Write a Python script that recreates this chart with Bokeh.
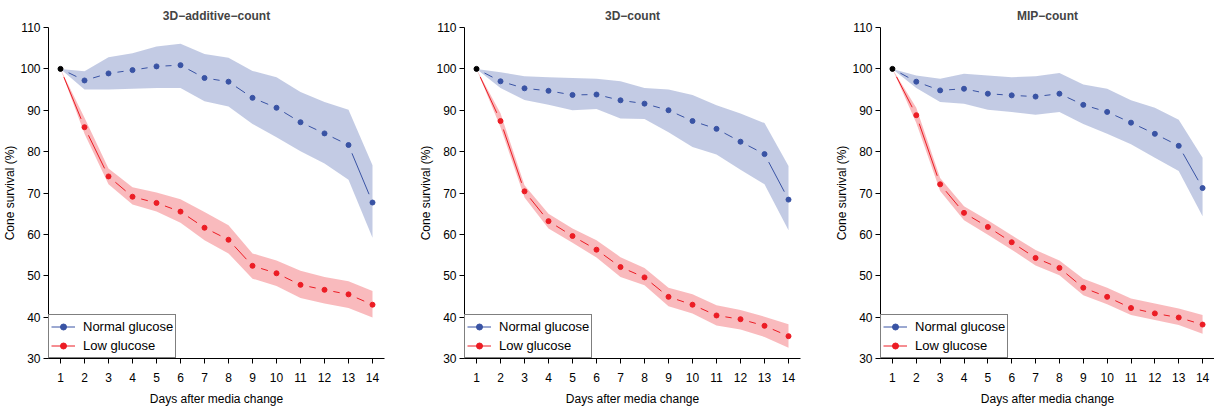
import numpy as np
from bokeh.plotting import figure
from bokeh.layouts import row
from bokeh.models import FixedTicker, Legend, LegendItem, Range1d, ColumnDataSource
from bokeh.embed import file_html
from bokeh.resources import INLINE

days = list(range(1, 15))

titles = ["3D\u2212additive\u2212count", "3D\u2212count", "MIP\u2212count"]

# 3D-additive-count
add_normal = [100, 97.2, 98.9, 99.7, 100.6, 100.9, 97.8, 96.9, 93.0, 90.6, 87.1, 84.4, 81.6, 67.7]
add_normal_hi = [100, 99.4, 102.8, 103.8, 105.4, 106.1, 103.6, 102.7, 99.5, 98.0, 94.4, 92.0, 90.1, 76.7]
add_normal_lo = [100, 95.0, 95.0, 95.2, 95.4, 95.4, 92.2, 90.9, 86.7, 83.5, 80.1, 77.1, 73.2, 59.2]
add_low = [100, 85.9, 74.0, 69.1, 67.6, 65.5, 61.6, 58.7, 52.4, 50.6, 47.8, 46.6, 45.5, 43.0]
add_low_hi = [100, 88.2, 75.9, 71.4, 70.1, 68.5, 65.4, 62.2, 55.4, 53.7, 51.2, 49.7, 48.7, 46.3]
add_low_lo = [100, 84.3, 72.1, 67.2, 65.5, 62.8, 58.6, 55.4, 49.3, 47.5, 44.6, 43.3, 42.2, 39.9]

# 3D-count
c3d_normal = [100, 97.0, 95.3, 94.7, 93.7, 93.8, 92.4, 91.6, 90.0, 87.4, 85.5, 82.4, 79.4, 68.4]
c3d_normal_hi = [100, 99.2, 98.2, 98.0, 97.8, 97.6, 97.0, 95.4, 95.0, 93.7, 91.2, 89.2, 86.9, 76.5]
c3d_normal_lo = [100, 95.4, 92.5, 91.3, 90.0, 90.3, 88.0, 87.9, 84.7, 81.1, 79.3, 75.6, 72.1, 61.0]
c3d_low = [100, 87.4, 70.4, 63.2, 59.6, 56.3, 52.1, 49.6, 44.9, 43.0, 40.4, 39.5, 37.9, 35.4]
c3d_low_hi = [100, 89.3, 71.9, 65.0, 61.4, 58.6, 54.5, 51.9, 47.1, 45.5, 42.9, 41.7, 40.1, 38.3]
c3d_low_lo = [100, 85.9, 68.9, 61.4, 58.0, 54.4, 49.7, 47.7, 42.6, 40.9, 38.0, 37.0, 35.2, 32.6]

# MIP-count
mip_normal = [100, 96.9, 94.8, 95.2, 94.0, 93.6, 93.3, 94.0, 91.3, 89.6, 87.0, 84.3, 81.4, 71.2]
mip_normal_hi = [100, 98.4, 97.6, 98.8, 98.4, 98.0, 98.2, 99.0, 96.2, 95.2, 92.4, 90.6, 87.7, 78.5]
mip_normal_lo = [100, 95.4, 92.0, 91.6, 90.1, 89.6, 88.9, 89.6, 86.7, 84.3, 81.8, 78.5, 75.3, 64.4]
mip_low = [100, 88.8, 72.1, 65.2, 61.8, 58.1, 54.3, 51.9, 47.1, 44.9, 42.2, 40.9, 39.9, 38.2]
mip_low_hi = [100, 90.6, 73.6, 66.8, 63.4, 59.8, 56.2, 53.7, 49.3, 47.1, 44.5, 43.3, 42.1, 40.5]
mip_low_lo = [100, 86.9, 70.5, 63.4, 59.9, 56.3, 52.5, 50.1, 45.3, 43.1, 40.5, 39.3, 38.1, 36.0]

y_ticks = [30, 40, 50, 60, 70, 80, 90, 100, 110]
series_labels = ["Normal glucose", "Low glucose"]

BLUE = "#3953a4"
RED = "#ec1c24"
FONT = "Liberation Sans"

panels = [
    (add_normal, add_normal_lo, add_normal_hi, add_low, add_low_lo, add_low_hi),
    (c3d_normal, c3d_normal_lo, c3d_normal_hi, c3d_low, c3d_low_lo, c3d_low_hi),
    (mip_normal, mip_normal_lo, mip_normal_hi, mip_low, mip_low_lo, mip_low_hi),
]

X0, X1 = 0.5, 14.5
Y0, Y1 = 30, 110
FH = 331
GAP = 9.0  # screen px gap around points (R type="b")


def gapped_segments(xs, ys, fw):
    sx = fw / (X1 - X0)
    sy = FH / (Y1 - Y0)
    x0s, y0s, x1s, y1s = [], [], [], []
    for i in range(len(xs) - 1):
        dx = (xs[i + 1] - xs[i]) * sx
        dy = (ys[i + 1] - ys[i]) * sy
        L = np.hypot(dx, dy)
        if L <= 2 * GAP:
            continue
        f = GAP / L
        x0s.append(xs[i] + f * (xs[i + 1] - xs[i]))
        y0s.append(ys[i] + f * (ys[i + 1] - ys[i]))
        x1s.append(xs[i + 1] - f * (xs[i + 1] - xs[i]))
        y1s.append(ys[i + 1] - f * (ys[i + 1] - ys[i]))
    return dict(x0=x0s, y0=y0s, x1=x1s, y1=y1s)


figs = []
for k, (title, data) in enumerate(zip(titles, panels)):
    nm, nlo, nhi, lw, llo, lhi = data
    fw = 336 if k < 2 else 334
    p = figure(frame_width=fw, frame_height=FH,
               min_border_left=48, min_border_right=(32 if k < 2 else 0),
               min_border_top=27, min_border_bottom=50,
               x_range=Range1d(X0, X1), y_range=Range1d(Y0, Y1),
               output_backend="svg", toolbar_location=None,
               title=title)
    p.title.text_font = FONT
    p.title.text_font_size = "12px"
    p.title.text_font_style = "bold"
    p.title.align = "center"
    p.grid.visible = False
    p.outline_line_color = None
    p.background_fill_color = "white"
    p.border_fill_color = "white"

    for ax in (p.xaxis[0], p.yaxis[0]):
        ax.axis_line_color = "black"
        ax.axis_line_width = 1
        ax.major_tick_line_color = "black"
        ax.major_tick_in = 0
        ax.major_tick_out = 5
        ax.minor_tick_line_color = None
        ax.major_label_text_font = FONT
        ax.major_label_text_font_size = "12px"
        ax.major_label_text_color = "black"
        ax.axis_label_text_font = FONT
        ax.axis_label_text_font_size = "12px"
        ax.axis_label_text_font_style = "normal"
        ax.axis_label_text_color = "black"
    p.xaxis[0].ticker = FixedTicker(ticks=days)
    p.yaxis[0].ticker = FixedTicker(ticks=y_ticks)
    p.xaxis[0].major_label_standoff = 9
    p.yaxis[0].major_label_standoff = 3
    p.xaxis[0].axis_label_standoff = 7
    p.yaxis[0].axis_label_standoff = 0
    p.xaxis[0].axis_label = "Days after media change"
    p.yaxis[0].axis_label = "Cone survival (%)"

    # bands
    p.varea(x=days, y1=nlo, y2=nhi, fill_color=BLUE, fill_alpha=0.3)
    p.varea(x=days, y1=llo, y2=lhi, fill_color=RED, fill_alpha=0.3)

    # gapped lines
    seg_r = []
    for ys, col in ((nm, BLUE), (lw, RED)):
        seg = ColumnDataSource(gapped_segments(days, ys, fw))
        seg_r.append(p.segment(x0="x0", y0="y0", x1="x1", y1="y1", source=seg,
                               line_color=col, line_width=1))
    pt_n = p.scatter(days[1:], nm[1:], size=5, color=BLUE)
    pt_l = p.scatter(days[1:], lw[1:], size=5, color=RED)
    p.scatter(days[:1], nm[:1], size=5, color="black")

    legend = Legend(items=[LegendItem(label=series_labels[0], renderers=[seg_r[0], pt_n]),
                           LegendItem(label=series_labels[1], renderers=[seg_r[1], pt_l])],
                    location="bottom_left")
    legend.margin = 0
    legend.padding = 2
    legend.spacing = 0
    legend.glyph_width = 24
    legend.glyph_height = 15
    legend.label_height = 19
    legend.label_standoff = 8
    legend.label_text_font = FONT
    legend.label_text_font_size = "13px"
    legend.label_text_color = "black"
    legend.border_line_color = "black"
    legend.border_line_width = 1
    legend.background_fill_color = "white"
    legend.background_fill_alpha = 1
    p.add_layout(legend, "center")
    figs.append(p)

layout = row(*figs, spacing=0)
open("out.html", "w").write(file_html(layout, INLINE))
